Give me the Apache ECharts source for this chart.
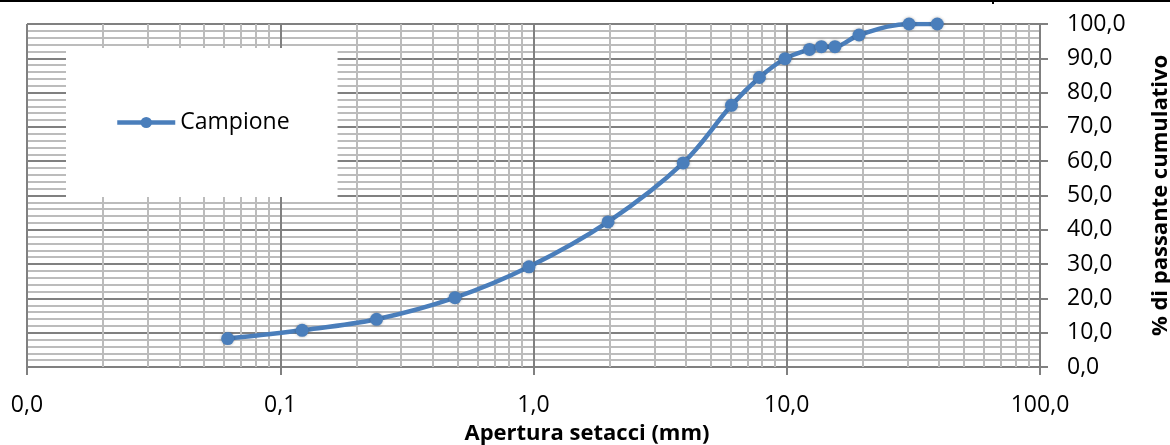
<!DOCTYPE html>
<html>
<head>
<meta charset="utf-8">
<script src="https://cdn.jsdelivr.net/npm/echarts@6/dist/echarts.min.js"></script>
<style>
html,body{margin:0;padding:0;background:#fff;}
#chart{width:1170px;height:445px;}
</style>
</head>
<body>
<div id="chart"></div>
<script>
// Data
const seriesName = 'Campione';
const sieveSizes = [0.062, 0.122, 0.24, 0.49, 0.96, 1.97, 3.9, 6.05, 7.8, 9.85, 12.3, 13.7, 15.5, 19.3, 30.4, 39.3];
const passing = [8.3, 10.7, 13.9, 20.2, 29.2, 42.3, 59.5, 76.3, 84.4, 89.9, 92.6, 93.4, 93.4, 96.8, 100.0, 100.0];
const xDecades = [0.01, 0.1, 1, 10];
const xMinorMultipliers = [2, 3, 4, 5, 6, 7, 8, 9];
const xAxisTitle = 'Apertura setacci (mm)';
const yAxisTitle = '% di passante cumulativo';

const minorX = [];
xDecades.forEach(d => xMinorMultipliers.forEach(m => minorX.push(+(d * m).toPrecision(3))));

const fmt = v => Number(v).toFixed(1).replace('.', ',');
const FONT = '"Open Sans", "Noto Sans", sans-serif';

const chart = echarts.init(document.getElementById('chart'), null, {renderer: 'canvas'});
chart.setOption({
  animation: false,
  backgroundColor: '#ffffff',
  grid: {left: 27, right: 130, top: 24, bottom: 78, show: false, containLabel: false, outerBoundsMode: 'none'},
  legend: {
    data: [seriesName],
    left: 66, top: 48,
    padding: [63, 48, 63, 49],
    backgroundColor: '#ffffff',
    itemWidth: 58, itemHeight: 14, itemGap: 0,
    lineStyle: {width: 4.5},
    textStyle: {fontFamily: FONT, fontSize: 23, color: '#000'},
    z: 10
  },
  xAxis: {
    type: 'log', logBase: 10, min: 0.01, max: 100,
    axisLine: {show: true, lineStyle: {color: '#808080', width: 2}},
    axisTick: {show: true, length: 8, lineStyle: {color: '#808080', width: 2}},
    axisLabel: {formatter: fmt, margin: 27, fontFamily: FONT, fontSize: 23, color: '#000'},
    splitLine: {show: true, lineStyle: {color: '#808080', width: 2}},
    minorTick: {show: false}, minorSplitLine: {show: false}
  },
  yAxis: {
    type: 'value', position: 'right', min: 0, max: 100, interval: 10,
    name: yAxisTitle, nameLocation: 'middle', nameRotate: 90, nameGap: 110,
    nameTextStyle: {fontFamily: FONT, fontSize: 22, fontWeight: 'bold', color: '#000'},
    axisLine: {show: true, lineStyle: {color: '#808080', width: 2}},
    axisTick: {show: true, length: 8, lineStyle: {color: '#808080', width: 2}},
    axisLabel: {formatter: fmt, margin: 27, fontFamily: FONT, fontSize: 23, color: '#000'},
    splitLine: {show: true, lineStyle: {color: '#808080', width: 2}},
    minorTick: {show: false, splitNumber: 5},
    minorSplitLine: {show: true, lineStyle: {color: '#bcbcbc', width: 2}}
  },
  graphic: [
    {type: 'line', shape: {x1: 0, y1: 1, x2: 1170, y2: 1}, style: {stroke: '#000', lineWidth: 2}, z: 100},
    {type: 'rect', shape: {x: 992, y: 0, width: 2, height: 4}, style: {fill: '#000'}, z: 100},
    {type: 'text', style: {text: xAxisTitle, x: 587, y: 434, align: 'center', verticalAlign: 'middle',
      font: 'bold 22px "Open Sans", sans-serif', fill: '#000'}, z: 100}
  ],
  series: [
    {
      name: '_minorX', type: 'line', data: [], z: 1, silent: true,
      markLine: {
        silent: true, symbol: 'none', label: {show: false},
        lineStyle: {color: '#bcbcbc', width: 2, type: 'solid'},
        data: minorX.map(v => ({xAxis: v}))
      }
    },
    {
      name: seriesName, type: 'line', z: 5,
      data: sieveSizes.map((x, i) => [x, passing[i]]),
      smooth: 0.35,
      symbol: 'circle', symbolSize: 13,
      itemStyle: {color: '#4a7ebb', shadowColor: 'rgba(0,0,0,0.3)', shadowBlur: 3},
      lineStyle: {color: '#4a7ebb', width: 4.5}
    }
  ]
});
</script>
</body>
</html>
